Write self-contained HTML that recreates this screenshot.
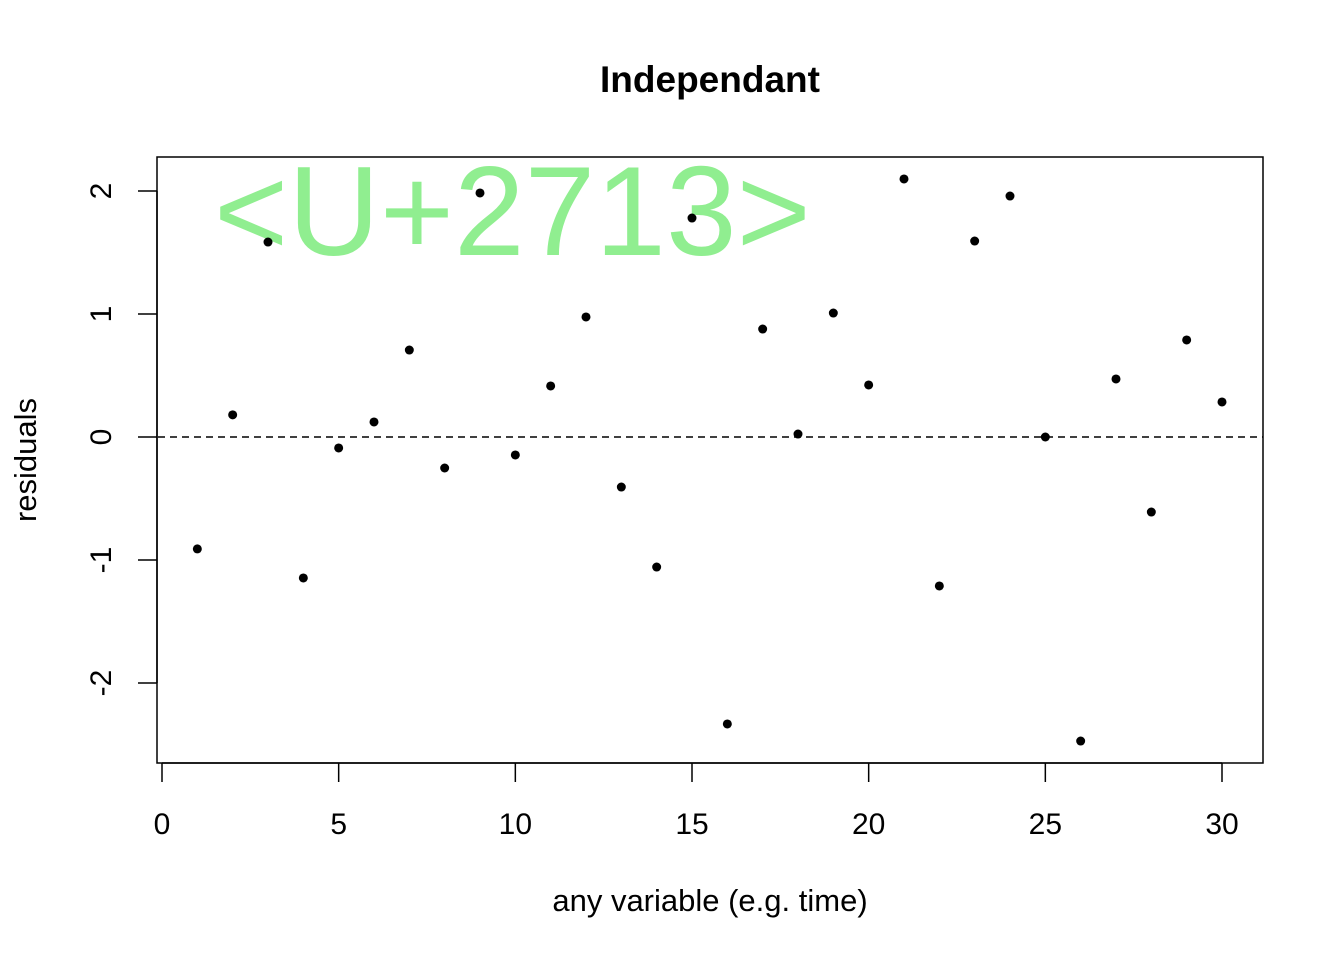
<!DOCTYPE html>
<html><head><meta charset="utf-8">
<style>
html,body{margin:0;padding:0;background:#fff;}
svg{display:block;font-family:"Liberation Sans",Arial,sans-serif;}
</style></head>
<body>
<svg id="chart" width="1344" height="960" viewBox="0 0 1344 960" xmlns="http://www.w3.org/2000/svg">
<rect width="1344" height="960" fill="#fff"/>
<text x="710" y="92" text-anchor="middle" font-size="37" font-weight="bold">Independant</text>
<text x="214" y="255" font-size="127" fill="#90EE90">&lt;U+2713&gt;</text>
<rect x="157" y="157" width="1106" height="606" fill="none" stroke="#000" stroke-width="1.5"/>
<text x="710" y="911" text-anchor="middle" font-size="31">any variable (e.g. time)</text>
<text transform="translate(36,460) rotate(-90)" text-anchor="middle" font-size="31">residuals</text>
<g id="axes"></g>
<g id="marks"></g>
</svg>
<script>
const xValues = [1,2,3,4,5,6,7,8,9,10,11,12,13,14,15,16,17,18,19,20,21,22,23,24,25,26,27,28,29,30];
const residuals = [-0.91,0.18,1.585,-1.146,-0.089,0.122,0.707,-0.252,1.984,-0.146,0.415,0.976,-0.407,-1.057,1.78,-2.333,0.878,0.024,1.008,0.423,2.098,-1.211,1.593,1.959,0.0,-2.472,0.472,-0.61,0.789,0.285];
const xTicks = [0,5,10,15,20,25,30];
const yTicks = [-2,-1,0,1,2];
const refLine = [0];

const NS = "http://www.w3.org/2000/svg";
function sx(v){ return 162 + v*(1222-162)/30; }
function sy(v){ return 437 - v*123; }
function mk(tag, attrs, parent){
  const e = document.createElementNS(NS, tag);
  for (const k in attrs) e.setAttribute(k, attrs[k]);
  parent.appendChild(e); return e;
}
const axes = document.getElementById('axes');
const marks = document.getElementById('marks');

let xl = mk('line',{x1:sx(xTicks[0]),x2:sx(xTicks[xTicks.length-1]),y1:763,y2:763,stroke:'#000','stroke-width':1.5},axes);


xTicks.forEach(t=>{
  const tk = mk('line',{x1:sx(t),x2:sx(t),y1:763,y2:782,stroke:'#000','stroke-width':1.5},axes);
  
  
  const lb = mk('text',{x:sx(t),y:834,'text-anchor':'middle','font-size':30},axes);
  lb.textContent = t;
  
  
});
let yl = mk('line',{x1:157,x2:157,y1:sy(yTicks[0]),y2:sy(yTicks[yTicks.length-1]),stroke:'#000','stroke-width':1.5},axes);


yTicks.forEach(t=>{
  const tk = mk('line',{x1:138,x2:157,y1:sy(t),y2:sy(t),stroke:'#000','stroke-width':1.5},axes);
  
  
  const lb = mk('text',{transform:`translate(111,${sy(t)}) rotate(-90)`,'text-anchor':'middle','font-size':30},axes);
  lb.textContent = t;
  
  
});
refLine.forEach(v=>{
  const l = mk('line',{x1:158,x2:1263,y1:sy(v),y2:sy(v),stroke:'#000','stroke-width':1.5,'stroke-dasharray':'7,5'},marks);
  
  
});
xValues.forEach((x,i)=>{
  const c = mk('circle',{cx:sx(x),cy:sy(residuals[i]),r:4.5,fill:'#000'},marks);
  
  
});
</script>
</body></html>
